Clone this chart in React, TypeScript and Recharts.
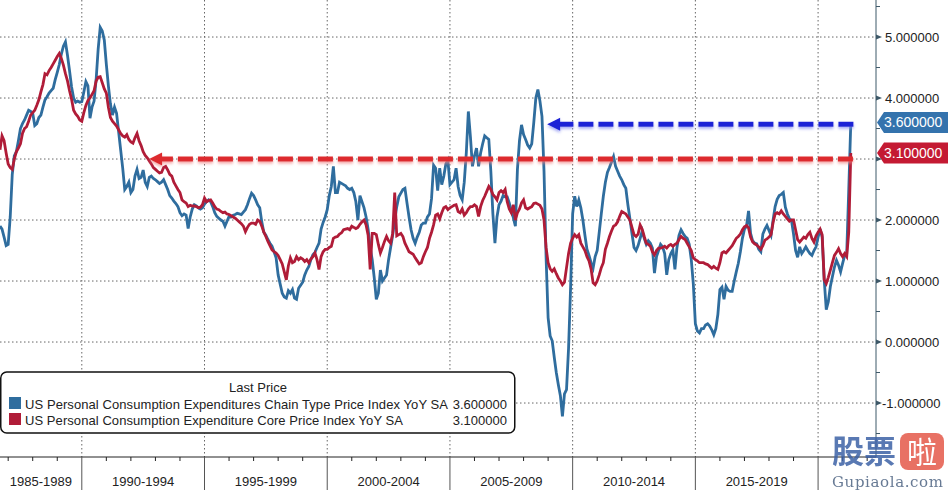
import React from "react";
import { LineChart, Line, XAxis, YAxis, CartesianGrid, ReferenceLine } from "recharts";

// Monthly YoY %, month-end dates, Aug 1986 .. Apr 2021
const FIRST_YEAR = 1986;
const FIRST_MONTH = 8;

const PCE_HEADLINE = [
  1.90, 1.85, 1.72, 1.58, 1.60, // 1986 Aug-Dec
  2.05, 2.75, 3.05, 3.12, 3.30, 3.50, 3.58, 3.64, 3.72, 3.80, 3.78, 3.75, // 1987
  3.55, 3.58, 3.68, 3.72, 3.85, 3.97, 4.02, 4.08, 4.12, 4.16, 4.30, 4.42, // 1988
  4.55, 4.72, 4.85, 4.92, 4.70, 4.45, 4.18, 4.00, 3.93, 3.95, 3.93, 3.94, // 1989
  4.10, 4.27, 4.20, 3.67, 3.85, 3.95, 4.30, 4.80, 5.16, 5.10, 4.95, 4.55, // 1990
  4.20, 3.90, 3.72, 3.85, 3.75, 3.45, 3.15, 2.85, 2.50, 2.55, 2.62, 2.45, // 1991
  2.50, 2.72, 2.83, 2.68, 2.70, 2.82, 2.62, 2.55, 2.70, 2.72, 2.68, 2.66, // 1992
  2.63, 2.60, 2.62, 2.66, 2.58, 2.50, 2.40, 2.36, 2.31, 2.27, 2.22, 2.12, // 1993
  2.07, 2.10, 2.08, 1.86, 2.05, 2.18, 2.25, 2.23, 2.20, 2.18, 2.20, 2.26, // 1994
  2.30, 2.33, 2.30, 2.22, 2.12, 2.06, 2.03, 2.00, 1.98, 1.90, 1.98, 2.06, // 1995
  2.05, 2.08, 2.09, 2.11, 2.10, 2.09, 2.13, 2.17, 2.25, 2.35, 2.44, 2.40, // 1996
  2.33, 2.25, 2.20, 1.97, 1.80, 1.75, 1.68, 1.62, 1.57, 1.48, 1.38, 1.10, // 1997
  0.95, 0.80, 0.74, 0.72, 0.84, 0.80, 0.86, 0.72, 0.70, 0.88, 0.93, 0.98, // 1998
  1.10, 1.18, 1.24, 1.35, 1.43, 1.47, 1.55, 1.62, 1.85, 1.96, 2.05, 2.17, // 1999
  2.40, 2.55, 2.88, 2.45, 2.45, 2.62, 2.60, 2.58, 2.56, 2.52, 2.50, 2.52, // 2000
  2.45, 2.30, 2.00, 2.40, 2.30, 2.20, 2.05, 1.85, 1.55, 1.35, 1.05, 0.70, // 2001
  0.80, 1.18, 1.00, 1.05, 1.10, 1.35, 1.55, 1.75, 2.00, 2.22, 2.38, 2.44, // 2002
  2.50, 2.52, 2.28, 2.05, 1.84, 1.70, 1.62, 1.72, 1.80, 1.92, 1.95, 1.95, // 2003
  2.05, 2.10, 2.35, 2.90, 2.85, 2.48, 2.85, 2.58, 2.72, 2.92, 2.98, 2.58, // 2004
  2.62, 2.66, 2.85, 2.55, 2.40, 2.33, 2.62, 3.10, 3.78, 3.37, 2.88, 3.05, // 2005
  3.18, 2.88, 3.10, 3.25, 3.38, 3.35, 3.32, 2.80, 2.10, 1.62, 2.05, 2.25, // 2006
  2.31, 2.40, 2.38, 2.38, 2.28, 2.15, 2.04, 1.90, 2.83, 3.30, 3.56, 3.40, // 2007
  3.32, 3.23, 3.18, 3.25, 3.60, 4.00, 4.14, 3.95, 3.70, 2.80, 1.40, 0.40, // 2008
  0.10, 0.02, -0.25, -0.50, -0.70, -0.88, -1.22, -0.85, -0.78, -0.10, 0.90, 2.10, // 2009
  2.39, 2.22, 2.33, 2.20, 2.00, 1.75, 1.52, 1.42, 1.30, 1.21, 1.40, 1.50, // 2010
  1.80, 2.10, 2.39, 2.62, 2.78, 2.86, 2.95, 3.04, 2.88, 2.80, 2.72, 2.66, // 2011
  2.58, 2.52, 2.25, 2.02, 1.78, 1.55, 1.50, 1.58, 1.70, 1.82, 1.70, 1.60, // 2012
  1.66, 1.62, 1.54, 1.13, 1.40, 1.50, 1.60, 1.56, 1.45, 1.10, 1.35, 1.45, // 2013
  1.51, 1.19, 1.55, 1.75, 1.84, 1.78, 1.73, 1.70, 1.60, 1.35, 0.95, 0.30, // 2014
  0.18, 0.15, 0.22, 0.22, 0.28, 0.30, 0.26, 0.20, 0.12, 0.22, 0.45, 0.86, // 2015
  0.90, 0.70, 0.91, 0.85, 0.83, 0.83, 1.00, 1.15, 1.29, 1.48, 1.70, 1.85, // 2016
  1.90, 2.15, 1.78, 1.66, 1.62, 1.61, 1.52, 1.48, 1.77, 1.85, 1.91, 1.83, // 2017
  1.75, 2.00, 2.22, 2.34, 2.40, 2.42, 2.45, 2.21, 2.10, 2.02, 1.99, 1.77, // 2018
  1.50, 1.39, 1.56, 1.45, 1.50, 1.56, 1.50, 1.45, 1.42, 1.50, 1.56, 1.72, // 2019
  1.85, 1.72, 1.02, 0.53, 0.66, 0.91, 1.07, 1.23, 1.34, 1.26, 1.15, 1.29, // 2020
  1.42, 1.45, 2.50, 3.60, // 2021 Jan-Apr
];

const PCE_CORE = [
  3.15, 3.38, 3.30, 3.10, 2.92, // 1986 Aug-Dec
  2.86, 2.83, 3.00, 3.12, 3.18, 3.25, 3.42, 3.50, 3.53, 3.62, 3.72, 3.76, // 1987
  3.80, 3.88, 3.97, 4.10, 4.22, 4.40, 4.38, 4.45, 4.50, 4.56, 4.62, 4.68, // 1988
  4.73, 4.65, 4.54, 4.40, 4.28, 4.12, 3.98, 3.80, 3.74, 3.70, 3.64, 3.62, // 1989
  3.76, 3.88, 3.96, 4.00, 4.06, 4.12, 4.28, 4.34, 4.35, 4.25, 4.15, 4.08, // 1990
  3.85, 3.68, 3.62, 3.58, 3.54, 3.48, 3.42, 3.38, 3.36, 3.40, 3.32, 3.28, // 1991
  3.26, 3.35, 3.42, 3.30, 3.22, 3.12, 3.06, 3.02, 2.97, 2.92, 2.86, 2.83, // 1992
  2.80, 2.77, 2.78, 2.86, 2.88, 2.82, 2.75, 2.72, 2.62, 2.56, 2.50, 2.45, // 1993
  2.33, 2.30, 2.28, 2.22, 2.24, 2.23, 2.23, 2.22, 2.20, 2.21, 2.25, 2.36, // 1994
  2.30, 2.32, 2.33, 2.28, 2.22, 2.18, 2.17, 2.14, 2.12, 2.13, 2.10, 2.09, // 1995
  2.07, 2.05, 2.03, 2.00, 1.97, 1.94, 1.90, 1.81, 1.88, 1.93, 1.95, 1.95, // 1996
  1.93, 2.00, 1.98, 1.90, 1.80, 1.73, 1.65, 1.58, 1.51, 1.48, 1.46, 1.42, // 1997
  1.35, 1.28, 1.15, 1.02, 1.25, 1.38, 1.30, 1.32, 1.40, 1.35, 1.38, 1.36, // 1998
  1.32, 1.35, 1.30, 1.36, 1.40, 1.46, 1.35, 1.19, 1.40, 1.48, 1.52, 1.52, // 1999
  1.55, 1.57, 1.70, 1.72, 1.73, 1.77, 1.79, 1.84, 1.85, 1.86, 1.84, 1.90, // 2000
  1.88, 1.86, 1.88, 1.93, 1.97, 2.00, 1.92, 1.75, 1.19, 1.78, 1.78, 1.76, // 2001
  1.60, 1.46, 1.55, 1.65, 1.73, 1.66, 1.62, 1.78, 2.45, 1.74, 1.76, 1.78, // 2002
  1.73, 1.62, 1.55, 1.48, 1.46, 1.44, 1.38, 1.33, 1.28, 1.30, 1.40, 1.48, // 2003
  1.55, 1.70, 1.80, 1.92, 2.08, 2.10, 2.02, 2.12, 2.20, 2.22, 2.17, 2.20, // 2004
  2.22, 2.24, 2.25, 2.14, 2.12, 2.18, 2.08, 2.12, 2.18, 2.22, 2.22, 2.25, // 2005
  2.22, 2.06, 2.22, 2.32, 2.39, 2.47, 2.55, 2.50, 2.42, 2.38, 2.33, 2.45, // 2006
  2.48, 2.45, 2.50, 2.30, 2.18, 2.12, 2.25, 2.00, 2.12, 2.18, 2.28, 2.33, // 2007
  2.20, 2.18, 2.20, 2.22, 2.27, 2.28, 2.26, 2.24, 2.18, 2.00, 1.55, 1.30, // 2008
  1.20, 1.16, 1.20, 1.12, 1.05, 1.00, 0.94, 0.98, 1.22, 1.45, 1.62, 1.70, // 2009
  1.76, 1.72, 1.76, 1.62, 1.56, 1.50, 1.40, 1.33, 1.20, 0.97, 0.94, 1.00, // 2010
  1.10, 1.22, 1.30, 1.52, 1.62, 1.73, 1.82, 1.90, 1.92, 1.97, 2.06, 2.14, // 2011
  2.12, 2.10, 2.05, 2.00, 1.88, 1.76, 1.73, 1.77, 1.92, 1.85, 1.73, 1.62, // 2012
  1.60, 1.57, 1.48, 1.43, 1.50, 1.54, 1.54, 1.55, 1.57, 1.54, 1.58, 1.60, // 2013
  1.57, 1.60, 1.62, 1.68, 1.73, 1.70, 1.68, 1.62, 1.56, 1.50, 1.38, 1.35, // 2014
  1.33, 1.30, 1.30, 1.30, 1.28, 1.27, 1.24, 1.21, 1.24, 1.21, 1.19, 1.30, // 2015
  1.46, 1.48, 1.46, 1.50, 1.54, 1.58, 1.64, 1.70, 1.73, 1.77, 1.84, 1.89, // 2016
  1.91, 1.87, 1.72, 1.64, 1.61, 1.59, 1.56, 1.52, 1.58, 1.67, 1.69, 1.72, // 2017
  1.76, 1.96, 2.10, 2.12, 2.10, 2.15, 2.10, 2.06, 2.02, 1.98, 2.00, 2.00, // 2018
  1.84, 1.68, 1.64, 1.68, 1.72, 1.70, 1.76, 1.80, 1.70, 1.64, 1.74, 1.80, // 2019
  1.85, 1.76, 1.02, 0.96, 1.06, 1.18, 1.30, 1.42, 1.47, 1.53, 1.45, 1.40, // 2020
  1.45, 1.40, 1.80, 3.10, // 2021 Jan-Apr
];

const PERIOD_STARTS = [1985, 1990, 1995, 2000, 2005, 2010, 2015, 2020];
const Y_LABELS = [-1, 0, 1, 2, 3, 4, 5];
const HIDDEN_Y_LABELS = [3]; // covered by the last-value tag
const LAST_PCE = 3.6;
const LAST_CORE = 3.1;

const LEGEND_ITEMS = [
  { name: "US Personal Consumption Expenditures Chain Type Price Index YoY SA", value: LAST_PCE, color: "#2f6d9e" },
  { name: "US Personal Consumption Expenditure Core Price Index YoY SA", value: LAST_CORE, color: "#b01c38" },
];
const LEGEND_NAME_WIDTHS = [423, 378];

// annotation arrows (data coords)
const ARROWS = [
  { from: 2021.42, to: 1992.74, level: 3.0, color: "#dd2a2e", glow: "#f08080", id: "red" },
  { from: 2021.44, to: 2008.96, level: 3.57, color: "#1c22d6", glow: "#8088f0", id: "blue" },
];

const W = 948;
const H = 490;
const X_AXIS_H = 33;
const Y_AXIS_W = 72;
const PLOT_BOTTOM = H - X_AXIS_H;
const AXIS_X = W - Y_AXIS_W;
const X_MIN = 1986.667;
const X_MAX = 2022.36;
const Y_MIN = -1.885;
const Y_MAX = 5.607;
const FONT = "'Liberation Sans', Arial, sans-serif";

const data = PCE_HEADLINE.map((v, i) => ({
  t: FIRST_YEAR + (FIRST_MONTH + i) / 12,
  pce: v,
  core: PCE_CORE[i],
}));

const periodLabels = PERIOD_STARTS.map((s) => {
  const lo = Math.max(s, X_MIN);
  const hi = Math.min(s + 5, X_MAX);
  return { pos: (lo + hi) / 2, text: `${s}-${s + 4}`, fits: hi - lo > 2.6 };
}).filter((p) => p.fits);

const yearTicks: number[] = [];
for (let y = Math.ceil(X_MIN); y <= X_MAX; y++) yearTicks.push(y);
const xTicks = [...yearTicks, ...periodLabels.map((p) => p.pos)];

const yTicks: number[] = [];
for (let v = -1.5; v <= 5.5; v += 0.5) yTicks.push(v);

function XTick(props: any) {
  const { x, payload } = props;
  const v = payload.value;
  const lab = periodLabels.find((p) => Math.abs(p.pos - v) < 1e-6);
  if (lab) {
    return (
      <text x={x} y={PLOT_BOTTOM + 29} textAnchor="middle" fontSize={13} fontFamily={FONT} fill="#222">
        {lab.text}
      </text>
    );
  }
  const major = Math.round(v) % 5 === 0;
  return (
    <line x1={x} x2={x} y1={PLOT_BOTTOM} y2={major ? H : PLOT_BOTTOM + 4} stroke={major ? "#555" : "#222"} strokeWidth={1} />
  );
}

function YTick(props: any) {
  const { y, payload } = props;
  const v = payload.value;
  if (Math.abs(v - Math.round(v)) > 1e-6) {
    return <line x1={AXIS_X} x2={AXIS_X + 4} y1={y} y2={y} stroke="#3d5868" />;
  }
  const showText = !HIDDEN_Y_LABELS.includes(Math.round(v));
  return (
    <g>
      <polygon points={`${AXIS_X},${y - 2.5} ${AXIS_X + 6},${y} ${AXIS_X},${y + 2.5}`} fill="#3d5868" />
      {showText && (
        <text x={AXIS_X + 9 - (v < 0 ? 3 : 0)} y={y + 4.5} fontSize={13} fontFamily={FONT} fill="#222">
          {v.toFixed(6)}
        </text>
      )}
    </g>
  );
}

const tagShape = (fill: string, value: number) => (props: any) => {
  const { x1, x2, y1 } = props;
  const l = Math.max(x1, x2) + 1;
  return (
    <g>
      <polygon
        points={`${l},${y1} ${l + 7},${y1 - 10.5} ${W},${y1 - 10.5} ${W},${y1 + 10.5} ${l + 7},${y1 + 10.5}`}
        fill={fill}
      />
      <text x={AXIS_X + 8} y={y1 + 5} fontSize={14} fontFamily={FONT} fill="#fff">
        {value.toFixed(6)}
      </text>
    </g>
  );
};

const arrowShape = (color: string, glow: string, id: string) => (props: any) => {
  const { x1, x2, y1 } = props;
  const tip = Math.min(x1, x2);
  const tail = Math.max(x1, x2);
  const head = 13;
  return (
    <g>
      <defs>
        <filter id={`glow-${id}`} filterUnits="userSpaceOnUse" x={0} y={0} width={W} height={H}>
          <feDropShadow dx={0} dy={2} stdDeviation={1.6} floodColor={glow} floodOpacity={0.7} />
        </filter>
      </defs>
      <g filter={`url(#glow-${id})`}>
        <line x1={tail} y1={y1} x2={tip + head - 1} y2={y1} stroke={color} strokeWidth={5} strokeDasharray="15 5" />
        <polygon points={`${tip},${y1} ${tip + head},${y1 - 6.5} ${tip + head},${y1 + 6.5}`} fill={color} />
      </g>
    </g>
  );
};

export default function App() {
  return (
    <div style={{ position: "relative", width: W, height: H, background: "#fff" }}>
      <style>{"body{margin:0}"}</style>
      <LineChart width={W} height={H} data={data} margin={{ top: 0, right: 0, bottom: 0, left: 0 }}>
        <CartesianGrid
          horizontalValues={Y_LABELS}
          verticalValues={[1990, 1995, 2000, 2005, 2010, 2015, 2020]}
          stroke="#666"
          strokeDasharray="1.5 2.5"
        />
        <XAxis
          type="number"
          dataKey="t"
          domain={[X_MIN, X_MAX]}
          allowDataOverflow
          ticks={xTicks}
          interval={0}
          height={X_AXIS_H}
          tickLine={false}
          axisLine={{ stroke: "#222" }}
          tick={XTick}
        />
        <YAxis
          orientation="right"
          type="number"
          domain={[Y_MIN, Y_MAX]}
          allowDataOverflow
          ticks={yTicks}
          interval={0}
          width={Y_AXIS_W}
          tickLine={false}
          axisLine={{ stroke: "#3d5868" }}
          tick={YTick}
        />
        <Line dataKey="pce" stroke="#2f6d9e" strokeWidth={2.8} dot={false} isAnimationActive={false} />
        <Line dataKey="core" stroke="#b01c38" strokeWidth={2.8} dot={false} isAnimationActive={false} />
        {ARROWS.map((a) => (
          <ReferenceLine
            key={a.id}
            segment={[{ x: a.from, y: a.level }, { x: a.to, y: a.level }]}
            shape={arrowShape(a.color, a.glow, a.id)}
          />
        ))}
        <ReferenceLine y={LAST_PCE} shape={tagShape("#3473ad", LAST_PCE)} />
        <ReferenceLine y={LAST_CORE} shape={tagShape("#c41a33", LAST_CORE)} />
      </LineChart>

      <svg width={W} height={H} style={{ position: "absolute", left: 0, top: 0, pointerEvents: "none" }}>
        {/* legend */}
        <rect x={0.75} y={372} width={514} height={61} rx={6} fill="#fff" stroke="#111" strokeWidth={1.5} />
        <text x={258} y={392} textAnchor="middle" fontSize={13} fontFamily={FONT} fill="#222">
          Last Price
        </text>
        {LEGEND_ITEMS.map((it, i) => (
          <g key={it.name}>
            <rect x={9} y={397 + i * 16} width={12} height={12} fill={it.color} />
            <text
              x={25}
              y={409 + i * 16}
              fontSize={13}
              fontFamily={FONT}
              fill="#222"
              textLength={LEGEND_NAME_WIDTHS[i]}
              lengthAdjust="spacing"
            >
              {it.name}
            </text>
            <text x={507} y={409 + i * 16} textAnchor="end" fontSize={13} fontFamily={FONT} fill="#222">
              {it.value.toFixed(6)}
            </text>
          </g>
        ))}

        {/* watermark */}
        <g opacity={0.85}>
          <text x={832} y={463} fontSize={32} fontWeight="bold" fontFamily="'Noto Sans CJK SC', sans-serif" fill="#3d62a6">
            股票
          </text>
          <rect x={900} y={433} width={44} height={37} rx={8} fill="#e5594a" />
          <text x={922} y={463} textAnchor="middle" fontSize={30} fontFamily="'Noto Sans CJK SC', sans-serif" fill="#fff">
            啦
          </text>
          <text x={832} y={487} fontSize={15} fontFamily="'DejaVu Serif', serif" fill="#4d6382" textLength={111}>
            Gupiaola.com
          </text>
        </g>
      </svg>
    </div>
  );
}
